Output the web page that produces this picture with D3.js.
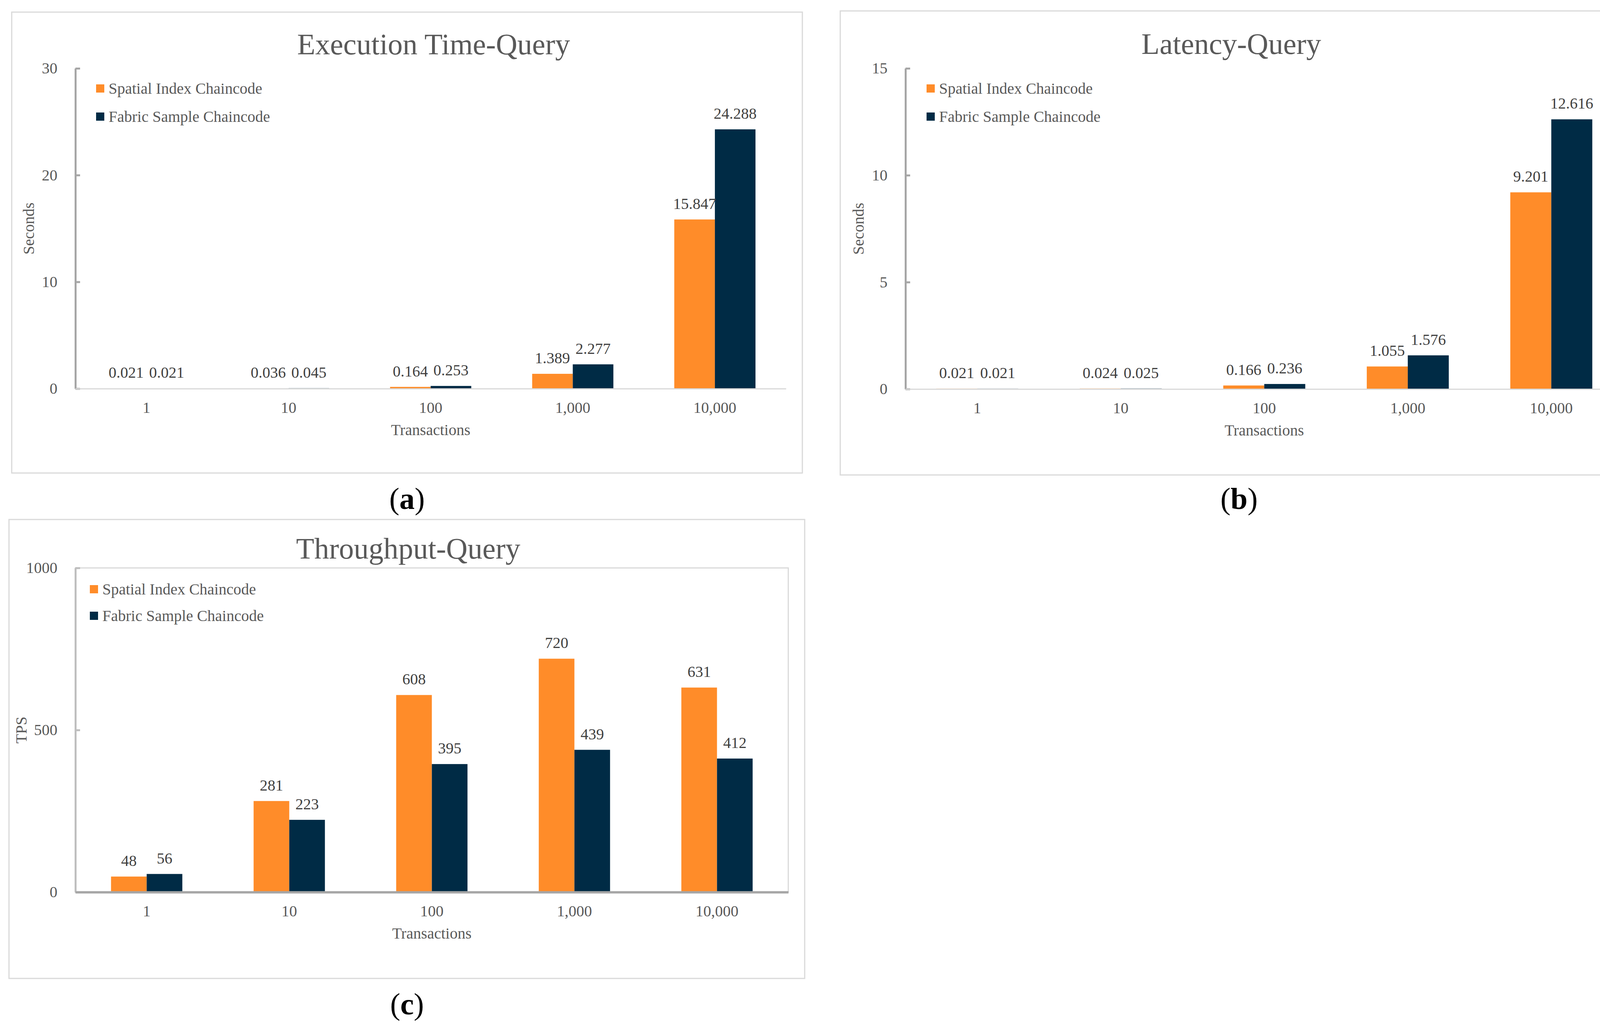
<!DOCTYPE html>
<html>
<head>
<meta charset="utf-8">
<script src="https://cdn.jsdelivr.net/npm/d3@7"></script>
<style>
  body { margin: 0; background: #fff; }
  text { font-family: "Liberation Serif", "Times New Roman", serif; }
</style>
</head>
<body>
<div id="chart"></div>
<script>
// Categories shared by all three panels
var transactions = ["1", "10", "100", "1,000", "10,000"];
var seriesNames = ["Spatial Index Chaincode", "Fabric Sample Chaincode"];

// (a) Execution time, seconds
var execSpatial = [0.021, 0.036, 0.164, 1.389, 15.847];
var execFabric = [0.021, 0.045, 0.253, 2.277, 24.288];
var execTicks = [0, 10, 20, 30];

// (b) Latency, seconds
var latSpatial = [0.021, 0.024, 0.166, 1.055, 9.201];
var latFabric = [0.021, 0.025, 0.236, 1.576, 12.616];
var latTicks = [0, 5, 10, 15];

// (c) Throughput, TPS
var tpsSpatial = [48, 281, 608, 720, 631];
var tpsFabric = [56, 223, 395, 439, 412];
var tpsTicks = [0, 500, 1000];

var colors = ["#FF8C29", "#002B45"];

// Define SVG area dimensions
var svgWidth = 4211;
var svgHeight = 2637;

var svg = d3.select("#chart")
  .append("svg")
  .attr("width", svgWidth)
  .attr("height", svgHeight);

// Layout for each panel (frame, plot area, title, legend)
var panels = [
  {
    title: "Execution Time-Query", yTitle: "Seconds", tag: "(a)",
    spatial: execSpatial, fabric: execFabric, ticks: execTicks, fmt: d3.format(".3f"),
    box: [30, 31, 2024, 1180], left: 193, right: 2012, top: 175, bottom: 995,
    pad: 1.5 / 3.5, titleX: 1110, titleY: 139, yTitleX: 73, tagX: 1042, tagY: 1303,
    legendX: 246, legendY: 216, legendStep: 72, yAxisColor: "#a6a6a6", framed: false
  },
  {
    title: "Latency-Query", yTitle: "Seconds", tag: "(b)",
    spatial: latSpatial, fabric: latFabric, ticks: latTicks, fmt: d3.format(".3f"),
    box: [2151, 28, 2046, 1188], left: 2318, right: 4155, top: 175, bottom: 996,
    pad: 1.5 / 3.5, titleX: 3152, titleY: 138, yTitleX: 2197, tagX: 3172, tagY: 1303,
    legendX: 2372, legendY: 216, legendStep: 72, yAxisColor: "#a6a6a6", framed: false
  },
  {
    title: "Throughput-Query", yTitle: "TPS", tag: "(c)",
    spatial: tpsSpatial, fabric: tpsFabric, ticks: tpsTicks, fmt: d3.format("d"),
    box: [23, 1330, 2037, 1175], left: 193, right: 2018, top: 1454, bottom: 2284,
    pad: 0.5, titleX: 1045, titleY: 1430, yTitleX: 54, tagX: 1042, tagY: 2597,
    legendX: 230, legendY: 1498, legendStep: 68, yAxisColor: "#bfbfbf", framed: true
  }
];

panels.forEach(drawPanel);

function drawPanel(p) {
  var g = svg.append("g");

  // outer frame
  g.append("rect")
    .attr("x", p.box[0])
    .attr("y", p.box[1])
    .attr("width", p.box[2])
    .attr("height", p.box[3])
    .attr("fill", "none")
    .attr("stroke", "#d9d9d9")
    .attr("stroke-width", 3);

  // scales
  var x0 = d3.scaleBand()
    .domain(transactions)
    .range([p.left, p.right])
    .paddingInner(p.pad)
    .paddingOuter(p.pad / 2);

  var x1 = d3.scaleBand()
    .domain(seriesNames)
    .range([0, x0.bandwidth()]);

  var y = d3.scaleLinear()
    .domain([0, d3.max(p.ticks)])
    .range([p.bottom, p.top]);

  // plot area border only on the throughput panel
  if (p.framed) {
    g.append("rect")
      .attr("x", p.left)
      .attr("y", p.top)
      .attr("width", p.right - p.left)
      .attr("height", p.bottom - p.top)
      .attr("fill", "none")
      .attr("stroke", "#d9d9d9")
      .attr("stroke-width", 3);
  }

  var rows = transactions.map(function (t, i) {
    return { cat: t, values: [
      { name: seriesNames[0], v: p.spatial[i], c: colors[0] },
      { name: seriesNames[1], v: p.fabric[i], c: colors[1] }
    ] };
  });

  var groups = g.append("g").selectAll("g")
    .data(rows)
    .join("g")
    .attr("transform", d => `translate(${x0(d.cat)},0)`);

  // bars
  groups.selectAll("rect")
    .data(d => d.values)
    .join("rect")
    .attr("x", d => x1(d.name))
    .attr("y", d => y(d.v))
    .attr("width", x1.bandwidth())
    .attr("height", d => y(0) - y(d.v))
    .attr("fill", d => d.c);

  // value labels
  groups.selectAll("text")
    .data(d => d.values)
    .join("text")
    .attr("x", d => x1(d.name) + x1.bandwidth() / 2)
    .attr("y", d => y(d.v) - 27)
    .attr("text-anchor", "middle")
    .attr("font-size", 40)
    .attr("fill", "#404040")
    .text(d => p.fmt(d.v));

  // y axis, ticks point inward
  var yAxis = g.append("g")
    .attr("transform", `translate(${p.left},0)`)
    .call(d3.axisLeft(y).tickValues(p.ticks).tickFormat(d3.format("d"))
      .tickSizeInner(-12).tickSizeOuter(0).tickPadding(46));
  yAxis.selectAll("path, line")
    .attr("stroke", p.yAxisColor)
    .attr("stroke-width", 5);
  yAxis.selectAll("text")
    .attr("font-size", 40)
    .attr("fill", "#595959")
    .attr("font-family", "Liberation Serif, serif");

  // x axis
  var xAxis = g.append("g")
    .attr("transform", `translate(0,${p.bottom})`)
    .call(d3.axisBottom(x0).tickSize(0).tickPadding(34));
  xAxis.select(".domain")
    .attr("stroke", p.framed ? "#a6a6a6" : "#d9d9d9")
    .attr("stroke-width", p.framed ? 6 : 3);
  xAxis.selectAll("text")
    .attr("font-size", 40)
    .attr("fill", "#595959")
    .attr("font-family", "Liberation Serif, serif");

  // axis titles
  g.append("text")
    .attr("x", (p.left + p.right) / 2)
    .attr("y", p.bottom + 119)
    .attr("text-anchor", "middle")
    .attr("font-size", 40)
    .attr("fill", "#595959")
    .text("Transactions");

  g.append("text")
    .attr("transform", `translate(${p.yTitleX},${(p.top + p.bottom) / 2}) rotate(-90)`)
    .attr("text-anchor", "middle")
    .attr("dominant-baseline", "central")
    .attr("font-size", 40)
    .attr("fill", "#595959")
    .text(p.yTitle);

  // chart title
  g.append("text")
    .attr("x", p.titleX)
    .attr("y", p.titleY)
    .attr("text-anchor", "middle")
    .attr("font-size", 76)
    .attr("fill", "#595959")
    .text(p.title);

  // legend
  var legend = g.append("g").selectAll("g")
    .data(seriesNames)
    .join("g")
    .attr("transform", (d, i) => `translate(${p.legendX},${p.legendY + i * p.legendStep})`);
  legend.append("rect")
    .attr("width", 21)
    .attr("height", 21)
    .attr("fill", (d, i) => colors[i]);
  legend.append("text")
    .attr("x", 32)
    .attr("y", 24)
    .attr("font-size", 40)
    .attr("fill", "#595959")
    .text(d => d);

  // sub-figure tag
  g.append("text")
    .attr("x", p.tagX)
    .attr("y", p.tagY)
    .attr("text-anchor", "middle")
    .attr("font-size", 78)
    .attr("fill", "#000")
    .html(p.tag.replace(/([a-z])/, '<tspan font-weight="bold">$1</tspan>'));
}
</script>
</body>
</html>
